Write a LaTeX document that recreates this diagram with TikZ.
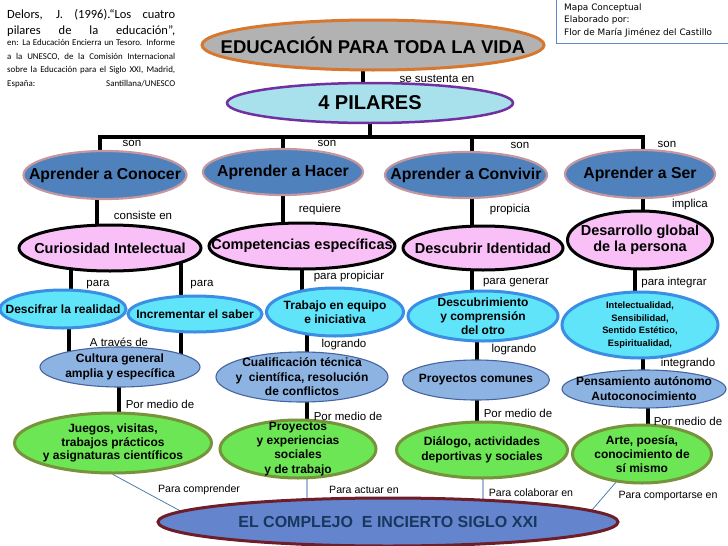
\documentclass[tikz,border=0pt]{standalone}
\usepackage{fontspec}
\setmainfont{Liberation Sans}
\newfontfamily\calib{Carlito}
\newfontfamily\verd{DejaVu Sans}
\usetikzlibrary{shapes.geometric,calc}
\newcommand\fsz[2]{\fontsize{#1}{#2}\selectfont}
\definecolor{eduF}{RGB}{178,178,178}
\definecolor{eduD}{RGB}{214,120,48}
\definecolor{pilF}{RGB}{168,224,236}
\definecolor{pilD}{RGB}{112,48,160}
\definecolor{aprF}{RGB}{79,129,189}
\definecolor{aprD}{RGB}{196,150,160}
\definecolor{pinkF}{RGB}{248,192,246}
\definecolor{cyanF}{RGB}{96,228,250}
\definecolor{cyanD}{RGB}{58,142,228}
\definecolor{medF}{RGB}{141,179,226}
\definecolor{medD}{RGB}{70,100,160}
\definecolor{grnF}{RGB}{108,230,84}
\definecolor{grnD}{RGB}{119,147,60}
\definecolor{sigF}{RGB}{100,132,206}
\definecolor{sigD}{RGB}{110,30,40}
\definecolor{sigT}{RGB}{23,55,94}
\definecolor{lnA}{RGB}{80,125,170}
\definecolor{lnB}{RGB}{165,188,215}
\definecolor{boxD}{RGB}{90,140,200}
\pgfdeclarelayer{bg}
\pgfsetlayers{bg,main}
\begin{document}
\begin{tikzpicture}[x=1pt,y=-1pt,
  ell/.style={ellipse, inner sep=-40pt, align=center},
  edu/.style={ell, draw=eduD, line width=3pt, fill=eduF, font=\fsz{18.5}{20}\bfseries},
  pil/.style={ell, draw=pilD, line width=2.5pt, fill=pilF, font=\fsz{20}{22}\bfseries},
  apr/.style={ell, draw=aprD, line width=2.2pt, fill=aprF, font=\fsz{15.8}{18}\bfseries},
  pink/.style={ell, draw=black, line width=3pt, fill=pinkF, font=\fsz{14.5}{16}\bfseries},
  cyan/.style={ell, draw=cyanD, line width=3pt, fill=cyanF, font=\fsz{12}{14}\bfseries},
  med/.style={ell, draw=medD, line width=1.1pt, fill=medF, font=\fsz{12}{14.5}\bfseries},
  grn/.style={ell, draw=grnD, line width=3pt, fill=grnF, font=\fsz{12}{14.2}\bfseries},
  sig/.style={ell, draw=sigD, line width=3pt, fill=sigF, text=sigT, font=\fsz{16}{18}\bfseries},
  lab/.style={inner sep=0pt, font=\fsz{11.5}{13}},
  labs/.style={inner sep=0pt, font=\fsz{10.6}{12}},
  conn/.style={line width=3.3pt, black},
  thinA/.style={line width=0.8pt, lnA},
  thinB/.style={line width=1.5pt, lnB},
  txt/.style={inner sep=0pt, anchor=base west}
]
\useasboundingbox (0,0) rectangle (728,546);

% reference text (top left)
\node[txt, font=\calib\fsz{12.5}{15}] (r1) at (7,19) {\makebox[168pt][s]{Delors, J. (1996).“Los cuatro}};
\node[txt, font=\calib\fsz{12.5}{15}] (r2) at (7,34) {\makebox[168pt][s]{pilares de la educación”,}};
\node[txt, font=\calib\fsz{8.9}{10}] (r3) at (7,45.5) {\makebox[168pt][s]{en: La Educación Encierra un Tesoro. Informe}};
\node[txt, font=\calib\fsz{8.9}{10}] (r4) at (7,59) {\makebox[168pt][s]{a la UNESCO, de la Comisión Internacional}};
\node[txt, font=\calib\fsz{8.9}{10}] (r5) at (7,72.5) {\makebox[168pt][s]{sobre la Educación para el Siglo XXI, Madrid,}};
\node[txt, font=\calib\fsz{8.9}{10}] (r6) at (7,86) {\makebox[168pt][s]{España:\hfill Santillana/UNESCO}};

% author box (top right)
\draw[boxD, line width=1pt, fill=white] (556,-3) rectangle (735,43);
\node[txt, font=\verd\fsz{8.9}{10}] (m1) at (564,10.5) {Mapa Conceptual};
\node[txt, font=\verd\fsz{8.9}{10}] (m2) at (564,23) {Elaborado por:};
\node[txt, font=\verd\fsz{8.9}{10}] (m3) at (564,35.5) {Flor de María Jiménez del Castillo};

% main nodes
\node[edu, minimum width=342, minimum height=50] (edu) at (373,45) {EDUCACIÓN PARA TODA LA VIDA};
\node[pil, minimum width=286, minimum height=40] (pil) at (370,103) {4 PILARES};

\node[apr, minimum width=163, minimum height=48] (conocer) at (105,175) {Aprender a Conocer};
\node[apr, minimum width=160, minimum height=46] (hacer) at (283,172) {Aprender a Hacer};
\node[apr, minimum width=162, minimum height=46] (conv) at (466,175) {Aprender a Convivir};
\node[apr, minimum width=150, minimum height=48] (ser) at (640,174) {Aprender a Ser};

\node[pink, minimum width=182, minimum height=46] (curio) at (110,248) {Curiosidad Intelectual};
\node[pink, minimum width=186, minimum height=46] (comp) at (302,246) {Competencias específicas};
\node[pink, minimum width=160, minimum height=44] (desc) at (483,248) {Descubrir Identidad};
\node[pink, minimum width=145, minimum height=58] (desa) at (640,240) {Desarrollo global\\de la persona};

\node[cyan, minimum width=126, minimum height=38] (descif) at (63,309) {Descifrar la realidad};
\node[cyan, minimum width=134, minimum height=36] (increm) at (195,314) {Incrementar el saber};
\node[cyan, minimum width=137, minimum height=48] (trab) at (335,312) {Trabajo en equipo\\e iniciativa};
\node[cyan, minimum width=150, minimum height=50] (descm) at (483,316) {Descubrimiento\\y comprensión\\del otro};
\node[cyan, minimum width=156, minimum height=66, font=\fsz{9.3}{12.6}\bfseries] (intel) at (640,325) {Intelectualidad,\\Sensibilidad,\\Sentido Estético,\\Espiritualidad,};

\node[med, minimum width=160, minimum height=40, font=\fsz{12}{15.5}\bfseries] (cult) at (120,367) {Cultura general\\amplia y específica};
\node[med, minimum width=172, minimum height=50] (cualif) at (302,377) {Cualificación técnica\\y~~científica, resolución\\de conflictos};
\node[med, minimum width=147, minimum height=40] (proyc) at (476,380) {Proyectos comunes};
\node[med, minimum width=164, minimum height=38, font=\fsz{12}{15}\bfseries] (pens) at (644,389) {Pensamiento autónomo\\Autoconocimiento};

\node[grn, minimum width=197, minimum height=60, font=\fsz{12}{13.5}\bfseries] (juegos) at (113,443) {Juegos, visitas,\\trabajos prácticos\\y asignaturas científicos};
\node[grn, minimum width=156, minimum height=58] (proyt) at (298,449) {Proyectos\\y experiencias\\sociales\\y de trabajo};
\node[grn, minimum width=171, minimum height=56, font=\fsz{12}{15}\bfseries] (dial) at (482,450) {Diálogo, actividades\\deportivas y sociales};
\node[grn, minimum width=139, minimum height=58] (arte) at (642,454) {Arte, poesía,\\conocimiento de\\sí mismo};

\node[sig, minimum width=460, minimum height=48] (siglo) at (388,522) {EL COMPLEJO~~E INCIERTO SIGLO XXI};

\coordinate (bar) at (370,137);

% connectors (behind the shapes)
\begin{pgfonlayer}{bg}
\draw[conn] ($(edu.center)+(-10,0)$) -- ($(pil.center)+(-7,0)$);
\draw[conn] (pil.center) -- (bar);
\draw[conn] ($(conocer.center)+(-5,0)$) |- (bar) -| ($(ser.center)+(3,0)$);
\draw[conn] (hacer.center) |- (bar);
\draw[conn] ($(conv.center)+(6,0)$) |- (bar);

\draw[conn] ($(conocer.center)+(-8,0)$) -- ($(curio.center)+(-13,0)$);
\draw[conn] (hacer.center) -- ($(comp.center)+(-19,0)$);
\draw[conn] ($(conv.center)+(6,0)$) -- ($(desc.center)+(-11,0)$);
\draw[conn] ($(ser.center)+(3,0)$) -- ($(desa.center)+(3,0)$);

\draw[conn] ($(curio.center)+(-39,0)$) -- ($(descif.center)+(8,0)$);
\draw[conn] ($(curio.center)+(71,0)$) -- ($(increm.center)+(-14,0)$);
\draw[conn] (comp.center) -- ($(trab.center)+(-33,0)$);
\draw[conn] ($(desc.center)+(-11,0)$) -- ($(descm.center)+(-11,0)$);
\draw[conn] ($(desa.center)+(-5,0)$) -- ($(intel.center)+(-5,0)$);

\draw[conn] ($(descif.center)+(6,0)$) -- ($(cult.center)+(-51,0)$);
\draw[conn] ($(increm.center)+(-14,0)$) -- ($(cult.center)+(61,0)$);
\draw[conn] ($(trab.center)+(-28,0)$) -- ($(cualif.center)+(5,0)$);
\draw[conn] ($(descm.center)+(-6,0)$) -- ($(proyc.center)+(1,0)$);
\draw[conn] ($(intel.center)+(3,0)$) -- ($(pens.center)+(-1,0)$);

\draw[conn] ($(cult.center)+(-1,0)$) -- ($(juegos.center)+(6,0)$);
\draw[conn] ($(cualif.center)+(5,0)$) -- ($(proyt.center)+(9,0)$);
\draw[conn] ($(proyc.center)+(1,0)$) -- ($(dial.center)+(-5,0)$);
\draw[conn] ($(pens.center)+(4,0)$) -- ($(arte.center)+(6,0)$);

\draw[thinA] (juegos.south) -- ($(siglo.center)+(-202,-8)$);
\draw[thinB] ($(proyt.center)+(9,0)$) -- ($(siglo.center)+(-81,0)$);
\draw[thinB] ($(dial.center)+(1,0)$) -- ($(siglo.center)+(95,0)$);
\draw[thinA] ($(arte.center)+(-25,27)$) -- ($(siglo.center)+(204,-12)$);
\end{pgfonlayer}

% connector labels
\node[lab] (l1) at (437,79) {se sustenta en};
\node[lab] (l2) at (132,143) {son};
\node[lab] (l3) at (327,143) {son};
\node[lab] (l4) at (520,145) {son};
\node[lab] (l5) at (667,144) {son};
\node[lab] (l6) at (143,215) {consiste en};
\node[lab] (l7) at (320,210) {requiere};
\node[lab] (l8) at (510,210) {propicia};
\node[lab] (l9) at (690,205) {implica};
\node[lab] (l10) at (98,285) {para};
\node[lab] (l11) at (202,285) {para};
\node[lab] (l12) at (349,277) {para propiciar};
\node[lab] (l13) at (516,283) {para generar};
\node[lab] (l14) at (674,283) {para integrar};
\node[lab] (l15) at (119,342) {A través de};
\node[lab] (l16) at (344,345) {logrando};
\node[lab] (l17) at (514,350) {logrando};
\node[lab] (l18) at (688,364) {integrando};
\node[lab] (l19) at (160,404) {Por medio de};
\node[lab] (l20) at (348,416) {Por medio de};
\node[lab] (l21) at (518,413) {Por medio de};
\node[lab] (l22) at (688,421) {Por medio de};
\node[labs] (l23) at (199,490) {Para comprender};
\node[labs] (l24) at (364,490) {Para actuar en};
\node[labs] (l25) at (531,493) {Para colaborar en};
\node[labs] (l26) at (668,496) {Para comportarse en};
\end{tikzpicture}
\end{document}
